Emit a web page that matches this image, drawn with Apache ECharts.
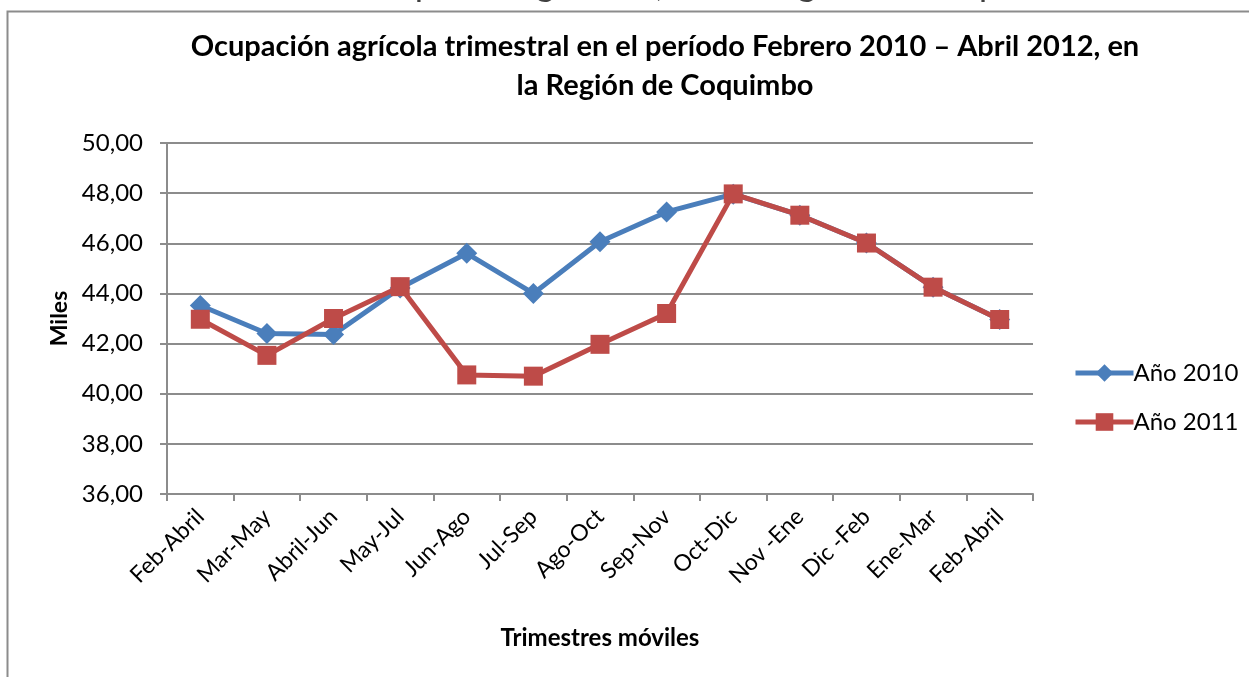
<!DOCTYPE html>
<html><head><meta charset="utf-8">
<script src="https://cdn.jsdelivr.net/npm/echarts@6/dist/echarts.min.js"></script>
<style>html,body{margin:0;padding:0;background:#fff}#c{width:1249px;height:677px}</style>
</head><body><div id="c"></div>
<script>
const categories = ['Feb-Abril','Mar-May','Abril-Jun','May-Jul','Jun-Ago','Jul-Sep','Ago-Oct','Sep-Nov','Oct-Dic','Nov -Ene','Dic -Feb','Ene-Mar','Feb-Abril'];
const anio2010 = [43.52, 42.40, 42.36, 44.22, 45.60, 44.00, 46.06, 47.25, 47.96, 47.12, 46.01, 44.25, 42.96];
const anio2011 = [42.97, 41.53, 43.00, 44.27, 40.75, 40.70, 41.97, 43.20, 47.97, 47.12, 46.01, 44.25, 42.96];
const seriesNames = ['Año 2010', 'Año 2011'];
const yMin = 36, yMax = 50, yStep = 2;
const titleText = 'Ocupación agrícola trimestral en el período Febrero 2010 – Abril 2012, en\nla Región de Coquimbo';
const captionText = 'Gráfico 4: Número de Ocupados agrícolas, en la Región de Coquimbo';
const xAxisTitle = 'Trimestres móviles';
const yAxisTitle = 'Miles';

const FONT = 'Lato';
const chart = echarts.init(document.getElementById('c'), null, {renderer: 'canvas'});
chart.setOption({
  backgroundColor: '#fff',
  animation: false,
  textStyle: {fontFamily: FONT},
  title: {
    text: titleText,
    left: 660, top: 22, textAlign: 'center',
    textStyle: {fontFamily: FONT, fontSize: 29, fontWeight: 'bold', color: '#000', lineHeight: 39}
  },
  graphic: [
    {type: 'rect', shape: {x: 7.5, y: 11.5, width: 1300, height: 720}, style: {fill: 'none', stroke: '#8c8c8c', lineWidth: 2}, silent: true},
    {type: 'text', left: 0, top: -34, style: {text: captionText, fontFamily: FONT, fontSize: 36, fill: '#404040'}, silent: true}
  ],
  legend: {
    orient: 'vertical',
    left: 1068, top: 356,
    itemWidth: 58, itemHeight: 22, itemGap: 25,
    lineStyle: {width: 5},
    textStyle: {fontFamily: FONT, fontSize: 24, color: '#000', padding: [0,0,0,-5]},
    data: seriesNames
  },
  grid: {left: 167, right: 216, top: 143, bottom: 183, containLabel: false},
  xAxis: {
    type: 'category',
    data: categories,
    boundaryGap: true,
    name: xAxisTitle, nameLocation: 'middle', nameGap: 132,
    nameTextStyle: {fontFamily: FONT, fontSize: 24, fontWeight: 'bold', color: '#000'},
    axisLine: {lineStyle: {color: '#8c8c8c', width: 2}},
    axisTick: {show: true, length: 7, lineStyle: {color: '#8c8c8c', width: 2}},
    axisLabel: {interval: 0, rotate: 45, fontSize: 23, color: '#000', margin: 19, fontFamily: FONT}
  },
  yAxis: {
    type: 'value',
    min: yMin, max: yMax, interval: yStep,
    name: yAxisTitle, nameLocation: 'middle', nameGap: 96, nameRotate: 90,
    nameTextStyle: {fontFamily: FONT, fontSize: 23, fontWeight: 'bold', color: '#000'},
    axisLine: {show: true, lineStyle: {color: '#8c8c8c', width: 2}},
    axisTick: {show: true, length: 7, lineStyle: {color: '#8c8c8c', width: 2}},
    splitLine: {lineStyle: {color: '#8c8c8c', width: 2}},
    axisLabel: {fontSize: 24, color: '#000', margin: 24, fontFamily: FONT,
      formatter: v => v.toFixed(2).replace('.', ',')}
  },
  series: [
    {name: seriesNames[0], type: 'line', data: anio2010, symbol: 'diamond', symbolSize: 21,
     lineStyle: {color: '#4A7EBB', width: 5}, itemStyle: {color: '#4A7EBB'}, z: 2},
    {name: seriesNames[1], type: 'line', data: anio2011, symbol: 'rect', symbolSize: 19,
     lineStyle: {color: '#BE4B48', width: 5}, itemStyle: {color: '#BE4B48'}, z: 3}
  ]
});
</script></body></html>
